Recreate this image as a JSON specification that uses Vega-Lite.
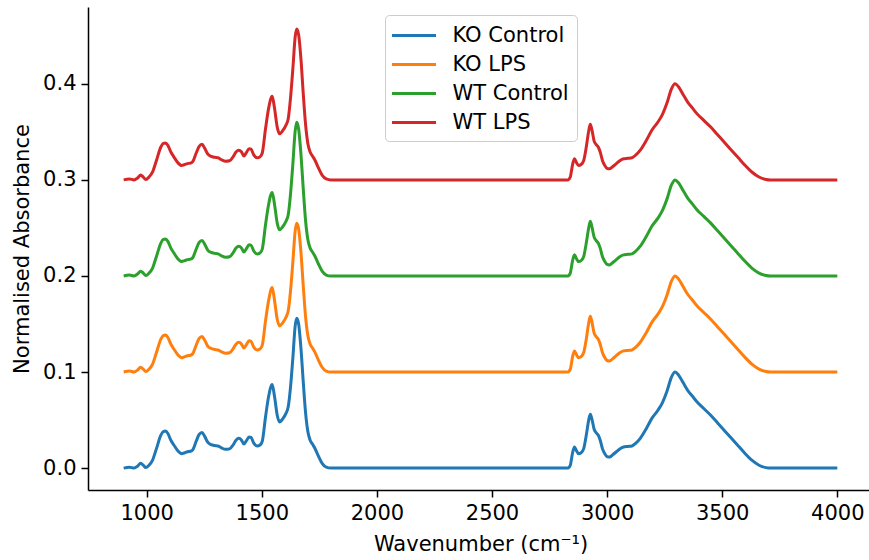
{
  "$schema": "https://vega.github.io/schema/vega-lite/v6.json",
  "width": 785,
  "height": 483,
  "autosize": "none",
  "padding": {"left": 88, "top": 7, "right": 0, "bottom": 70},
  "background": "white",
  "config": {
    "view": {"stroke": null},
    "font": "DejaVu Sans",
    "axis": {
      "grid": false,
      "domainColor": "#000000",
      "domainWidth": 1.5,
      "tickColor": "#000000",
      "tickWidth": 1.5,
      "tickSize": 7,
      "labelFontSize": 21,
      "labelColor": "#000000",
      "labelPadding": 5,
      "titleFontSize": 21,
      "titleFontWeight": "normal",
      "titleColor": "#000000"
    },
    "legend": {
      "orient": "none",
      "legendX": 297,
      "legendY": 8,
      "strokeColor": "#cccccc",
      "fillColor": "rgba(255,255,255,0.8)",
      "cornerRadius": 4,
      "padding": 8,
      "labelFontSize": 21,
      "labelColor": "#000000",
      "labelLimit": 400,
      "symbolType": "M-2,0H2",
      "symbolSize": 484,
      "symbolStrokeWidth": 3,
      "symbolOffset": 8.5,
      "labelOffset": 26,
      "rowPadding": 6
    }
  },
  "datasets": {
    "ko_control": [
      {"x":900,"y":0.000},{"x":925,"y":0.001},{"x":945,"y":0.000},{"x":960,"y":0.002},{"x":974,"y":0.005},{"x":985,"y":0.003},{"x":996,"y":0.0005},{"x":1010,"y":0.003},{"x":1025,"y":0.008},{"x":1042,"y":0.020},{"x":1061,"y":0.034},{"x":1072,"y":0.038},{"x":1082,"y":0.0385},{"x":1092,"y":0.036},{"x":1105,"y":0.029},{"x":1118,"y":0.024},{"x":1135,"y":0.018},{"x":1152,"y":0.015},{"x":1165,"y":0.016},{"x":1177,"y":0.017},{"x":1190,"y":0.0175},{"x":1200,"y":0.019},{"x":1215,"y":0.028},{"x":1228,"y":0.035},{"x":1240,"y":0.037},{"x":1252,"y":0.033},{"x":1265,"y":0.027},{"x":1280,"y":0.0245},{"x":1295,"y":0.0235},{"x":1310,"y":0.023},{"x":1325,"y":0.021},{"x":1343,"y":0.0195},{"x":1360,"y":0.020},{"x":1375,"y":0.024},{"x":1388,"y":0.029},{"x":1400,"y":0.031},{"x":1412,"y":0.029},{"x":1422,"y":0.025},{"x":1432,"y":0.028},{"x":1445,"y":0.0325},{"x":1453,"y":0.032},{"x":1465,"y":0.026},{"x":1480,"y":0.023},{"x":1492,"y":0.024},{"x":1502,"y":0.028},{"x":1516,"y":0.053},{"x":1530,"y":0.075},{"x":1545,"y":0.087},{"x":1555,"y":0.075},{"x":1567,"y":0.055},{"x":1577,"y":0.048},{"x":1590,"y":0.051},{"x":1605,"y":0.057},{"x":1615,"y":0.064},{"x":1625,"y":0.085},{"x":1635,"y":0.115},{"x":1645,"y":0.148},{"x":1652,"y":0.156},{"x":1660,"y":0.150},{"x":1670,"y":0.125},{"x":1680,"y":0.090},{"x":1690,"y":0.058},{"x":1700,"y":0.038},{"x":1710,"y":0.029},{"x":1720,"y":0.025},{"x":1730,"y":0.021},{"x":1745,"y":0.013},{"x":1762,"y":0.005},{"x":1780,"y":0.001},{"x":1800,"y":0.000},{"x":2300,"y":0.000},{"x":2830,"y":0.000},{"x":2840,"y":0.003},{"x":2850,"y":0.016},{"x":2858,"y":0.022},{"x":2867,"y":0.018},{"x":2876,"y":0.015},{"x":2887,"y":0.016},{"x":2898,"y":0.020},{"x":2910,"y":0.035},{"x":2920,"y":0.050},{"x":2927,"y":0.056},{"x":2935,"y":0.050},{"x":2943,"y":0.041},{"x":2952,"y":0.037},{"x":2962,"y":0.034},{"x":2970,"y":0.029},{"x":2980,"y":0.020},{"x":2990,"y":0.015},{"x":3000,"y":0.012},{"x":3010,"y":0.0115},{"x":3025,"y":0.014},{"x":3040,"y":0.017},{"x":3055,"y":0.020},{"x":3072,"y":0.022},{"x":3090,"y":0.0225},{"x":3108,"y":0.023},{"x":3125,"y":0.026},{"x":3144,"y":0.031},{"x":3170,"y":0.041},{"x":3195,"y":0.052},{"x":3220,"y":0.060},{"x":3240,"y":0.068},{"x":3260,"y":0.080},{"x":3280,"y":0.095},{"x":3295,"y":0.100},{"x":3310,"y":0.097},{"x":3330,"y":0.089},{"x":3350,"y":0.081},{"x":3370,"y":0.075},{"x":3390,"y":0.069},{"x":3420,"y":0.062},{"x":3450,"y":0.055},{"x":3480,"y":0.047},{"x":3510,"y":0.039},{"x":3540,"y":0.031},{"x":3570,"y":0.023},{"x":3600,"y":0.015},{"x":3630,"y":0.008},{"x":3660,"y":0.003},{"x":3690,"y":0.0005},{"x":3710,"y":0.000},{"x":4000,"y":0.000}
    ],
    "ko_lps": [
      {"x":900,"y":0.100},{"x":925,"y":0.101},{"x":945,"y":0.100},{"x":960,"y":0.102},{"x":974,"y":0.105},{"x":985,"y":0.103},{"x":996,"y":0.1005},{"x":1010,"y":0.103},{"x":1025,"y":0.108},{"x":1042,"y":0.120},{"x":1061,"y":0.134},{"x":1072,"y":0.138},{"x":1082,"y":0.1385},{"x":1092,"y":0.136},{"x":1105,"y":0.129},{"x":1118,"y":0.124},{"x":1135,"y":0.118},{"x":1152,"y":0.115},{"x":1165,"y":0.116},{"x":1177,"y":0.117},{"x":1190,"y":0.1175},{"x":1200,"y":0.119},{"x":1215,"y":0.128},{"x":1228,"y":0.135},{"x":1240,"y":0.137},{"x":1252,"y":0.133},{"x":1265,"y":0.127},{"x":1280,"y":0.1245},{"x":1295,"y":0.1235},{"x":1310,"y":0.123},{"x":1325,"y":0.121},{"x":1343,"y":0.1195},{"x":1360,"y":0.120},{"x":1375,"y":0.124},{"x":1388,"y":0.129},{"x":1400,"y":0.131},{"x":1412,"y":0.129},{"x":1422,"y":0.125},{"x":1432,"y":0.128},{"x":1445,"y":0.1325},{"x":1453,"y":0.132},{"x":1465,"y":0.126},{"x":1480,"y":0.123},{"x":1492,"y":0.124},{"x":1502,"y":0.128},{"x":1516,"y":0.153},{"x":1530,"y":0.175},{"x":1545,"y":0.188},{"x":1555,"y":0.175},{"x":1567,"y":0.155},{"x":1577,"y":0.148},{"x":1590,"y":0.151},{"x":1605,"y":0.157},{"x":1615,"y":0.164},{"x":1625,"y":0.185},{"x":1635,"y":0.215},{"x":1645,"y":0.247},{"x":1652,"y":0.255},{"x":1660,"y":0.249},{"x":1670,"y":0.225},{"x":1680,"y":0.190},{"x":1690,"y":0.158},{"x":1700,"y":0.138},{"x":1710,"y":0.129},{"x":1720,"y":0.125},{"x":1730,"y":0.121},{"x":1745,"y":0.113},{"x":1762,"y":0.105},{"x":1780,"y":0.101},{"x":1800,"y":0.100},{"x":2300,"y":0.100},{"x":2830,"y":0.100},{"x":2840,"y":0.103},{"x":2850,"y":0.116},{"x":2858,"y":0.122},{"x":2867,"y":0.118},{"x":2876,"y":0.115},{"x":2887,"y":0.116},{"x":2898,"y":0.120},{"x":2910,"y":0.135},{"x":2920,"y":0.151},{"x":2927,"y":0.158},{"x":2935,"y":0.151},{"x":2943,"y":0.141},{"x":2952,"y":0.137},{"x":2962,"y":0.134},{"x":2970,"y":0.129},{"x":2980,"y":0.120},{"x":2990,"y":0.115},{"x":3000,"y":0.112},{"x":3010,"y":0.1115},{"x":3025,"y":0.114},{"x":3040,"y":0.117},{"x":3055,"y":0.120},{"x":3072,"y":0.122},{"x":3090,"y":0.1225},{"x":3108,"y":0.123},{"x":3125,"y":0.126},{"x":3144,"y":0.131},{"x":3170,"y":0.141},{"x":3195,"y":0.152},{"x":3220,"y":0.160},{"x":3240,"y":0.168},{"x":3260,"y":0.180},{"x":3280,"y":0.195},{"x":3295,"y":0.200},{"x":3310,"y":0.197},{"x":3330,"y":0.189},{"x":3350,"y":0.181},{"x":3370,"y":0.175},{"x":3390,"y":0.169},{"x":3420,"y":0.162},{"x":3450,"y":0.155},{"x":3480,"y":0.147},{"x":3510,"y":0.139},{"x":3540,"y":0.131},{"x":3570,"y":0.123},{"x":3600,"y":0.115},{"x":3630,"y":0.108},{"x":3660,"y":0.103},{"x":3690,"y":0.1005},{"x":3710,"y":0.100},{"x":4000,"y":0.100}
    ],
    "wt_control": [
      {"x":900,"y":0.200},{"x":925,"y":0.201},{"x":945,"y":0.200},{"x":960,"y":0.202},{"x":974,"y":0.205},{"x":985,"y":0.203},{"x":996,"y":0.2005},{"x":1010,"y":0.203},{"x":1025,"y":0.208},{"x":1042,"y":0.220},{"x":1061,"y":0.234},{"x":1072,"y":0.238},{"x":1082,"y":0.2385},{"x":1092,"y":0.236},{"x":1105,"y":0.229},{"x":1118,"y":0.224},{"x":1135,"y":0.218},{"x":1152,"y":0.215},{"x":1165,"y":0.216},{"x":1177,"y":0.217},{"x":1190,"y":0.2175},{"x":1200,"y":0.219},{"x":1215,"y":0.228},{"x":1228,"y":0.235},{"x":1240,"y":0.237},{"x":1252,"y":0.233},{"x":1265,"y":0.227},{"x":1280,"y":0.2245},{"x":1295,"y":0.2235},{"x":1310,"y":0.223},{"x":1325,"y":0.221},{"x":1343,"y":0.2195},{"x":1360,"y":0.220},{"x":1375,"y":0.224},{"x":1388,"y":0.229},{"x":1400,"y":0.231},{"x":1412,"y":0.229},{"x":1422,"y":0.225},{"x":1432,"y":0.228},{"x":1445,"y":0.2325},{"x":1453,"y":0.232},{"x":1465,"y":0.226},{"x":1480,"y":0.223},{"x":1492,"y":0.224},{"x":1502,"y":0.228},{"x":1516,"y":0.253},{"x":1530,"y":0.275},{"x":1545,"y":0.287},{"x":1555,"y":0.275},{"x":1567,"y":0.255},{"x":1577,"y":0.248},{"x":1590,"y":0.251},{"x":1605,"y":0.257},{"x":1615,"y":0.264},{"x":1625,"y":0.286},{"x":1635,"y":0.317},{"x":1645,"y":0.351},{"x":1652,"y":0.360},{"x":1660,"y":0.353},{"x":1670,"y":0.327},{"x":1680,"y":0.291},{"x":1690,"y":0.258},{"x":1700,"y":0.238},{"x":1710,"y":0.229},{"x":1720,"y":0.225},{"x":1730,"y":0.221},{"x":1745,"y":0.213},{"x":1762,"y":0.205},{"x":1780,"y":0.201},{"x":1800,"y":0.200},{"x":2300,"y":0.200},{"x":2830,"y":0.200},{"x":2840,"y":0.203},{"x":2850,"y":0.216},{"x":2858,"y":0.222},{"x":2867,"y":0.218},{"x":2876,"y":0.215},{"x":2887,"y":0.216},{"x":2898,"y":0.220},{"x":2910,"y":0.235},{"x":2920,"y":0.250},{"x":2927,"y":0.257},{"x":2935,"y":0.250},{"x":2943,"y":0.241},{"x":2952,"y":0.237},{"x":2962,"y":0.234},{"x":2970,"y":0.229},{"x":2980,"y":0.220},{"x":2990,"y":0.215},{"x":3000,"y":0.212},{"x":3010,"y":0.2115},{"x":3025,"y":0.214},{"x":3040,"y":0.217},{"x":3055,"y":0.220},{"x":3072,"y":0.222},{"x":3090,"y":0.2225},{"x":3108,"y":0.223},{"x":3125,"y":0.226},{"x":3144,"y":0.231},{"x":3170,"y":0.241},{"x":3195,"y":0.252},{"x":3220,"y":0.260},{"x":3240,"y":0.268},{"x":3260,"y":0.280},{"x":3280,"y":0.295},{"x":3295,"y":0.300},{"x":3310,"y":0.297},{"x":3330,"y":0.289},{"x":3350,"y":0.281},{"x":3370,"y":0.275},{"x":3390,"y":0.269},{"x":3420,"y":0.262},{"x":3450,"y":0.255},{"x":3480,"y":0.247},{"x":3510,"y":0.239},{"x":3540,"y":0.231},{"x":3570,"y":0.223},{"x":3600,"y":0.215},{"x":3630,"y":0.208},{"x":3660,"y":0.203},{"x":3690,"y":0.2005},{"x":3710,"y":0.200},{"x":4000,"y":0.200}
    ],
    "wt_lps": [
      {"x":900,"y":0.300},{"x":925,"y":0.301},{"x":945,"y":0.300},{"x":960,"y":0.302},{"x":974,"y":0.305},{"x":985,"y":0.303},{"x":996,"y":0.3005},{"x":1010,"y":0.303},{"x":1025,"y":0.308},{"x":1042,"y":0.320},{"x":1061,"y":0.334},{"x":1072,"y":0.338},{"x":1082,"y":0.3385},{"x":1092,"y":0.336},{"x":1105,"y":0.329},{"x":1118,"y":0.324},{"x":1135,"y":0.318},{"x":1152,"y":0.315},{"x":1165,"y":0.316},{"x":1177,"y":0.317},{"x":1190,"y":0.3175},{"x":1200,"y":0.319},{"x":1215,"y":0.328},{"x":1228,"y":0.335},{"x":1240,"y":0.337},{"x":1252,"y":0.333},{"x":1265,"y":0.327},{"x":1280,"y":0.3245},{"x":1295,"y":0.3235},{"x":1310,"y":0.323},{"x":1325,"y":0.321},{"x":1343,"y":0.3195},{"x":1360,"y":0.320},{"x":1375,"y":0.324},{"x":1388,"y":0.329},{"x":1400,"y":0.331},{"x":1412,"y":0.329},{"x":1422,"y":0.325},{"x":1432,"y":0.328},{"x":1445,"y":0.3325},{"x":1453,"y":0.332},{"x":1465,"y":0.326},{"x":1480,"y":0.323},{"x":1492,"y":0.324},{"x":1502,"y":0.328},{"x":1516,"y":0.353},{"x":1530,"y":0.375},{"x":1545,"y":0.387},{"x":1555,"y":0.375},{"x":1567,"y":0.355},{"x":1577,"y":0.348},{"x":1590,"y":0.351},{"x":1605,"y":0.357},{"x":1615,"y":0.364},{"x":1625,"y":0.386},{"x":1635,"y":0.416},{"x":1645,"y":0.449},{"x":1652,"y":0.457},{"x":1660,"y":0.451},{"x":1670,"y":0.426},{"x":1680,"y":0.390},{"x":1690,"y":0.358},{"x":1700,"y":0.338},{"x":1710,"y":0.329},{"x":1720,"y":0.325},{"x":1730,"y":0.321},{"x":1745,"y":0.313},{"x":1762,"y":0.305},{"x":1780,"y":0.301},{"x":1800,"y":0.300},{"x":2300,"y":0.300},{"x":2830,"y":0.300},{"x":2840,"y":0.303},{"x":2850,"y":0.316},{"x":2858,"y":0.322},{"x":2867,"y":0.318},{"x":2876,"y":0.315},{"x":2887,"y":0.316},{"x":2898,"y":0.320},{"x":2910,"y":0.335},{"x":2920,"y":0.351},{"x":2927,"y":0.358},{"x":2935,"y":0.351},{"x":2943,"y":0.341},{"x":2952,"y":0.337},{"x":2962,"y":0.334},{"x":2970,"y":0.329},{"x":2980,"y":0.320},{"x":2990,"y":0.315},{"x":3000,"y":0.312},{"x":3010,"y":0.3115},{"x":3025,"y":0.314},{"x":3040,"y":0.317},{"x":3055,"y":0.320},{"x":3072,"y":0.322},{"x":3090,"y":0.3225},{"x":3108,"y":0.323},{"x":3125,"y":0.326},{"x":3144,"y":0.331},{"x":3170,"y":0.341},{"x":3195,"y":0.352},{"x":3220,"y":0.360},{"x":3240,"y":0.368},{"x":3260,"y":0.380},{"x":3280,"y":0.395},{"x":3295,"y":0.400},{"x":3310,"y":0.397},{"x":3330,"y":0.389},{"x":3350,"y":0.381},{"x":3370,"y":0.375},{"x":3390,"y":0.369},{"x":3420,"y":0.362},{"x":3450,"y":0.355},{"x":3480,"y":0.347},{"x":3510,"y":0.339},{"x":3540,"y":0.331},{"x":3570,"y":0.323},{"x":3600,"y":0.315},{"x":3630,"y":0.308},{"x":3660,"y":0.303},{"x":3690,"y":0.3005},{"x":3710,"y":0.300},{"x":4000,"y":0.300}
    ]
  },
  "encoding": {
    "x": {
      "field": "x",
      "type": "quantitative",
      "scale": {"domain": [745, 4155], "nice": false, "zero": false},
      "axis": {"values": [1000, 1500, 2000, 2500, 3000, 3500, 4000], "format": "d", "title": "Wavenumber (cm⁻¹)", "titlePadding": 10, "labelFlush": false}
    },
    "y": {
      "field": "y",
      "type": "quantitative",
      "scale": {"domain": [-0.0228, 0.48], "nice": false, "zero": false},
      "axis": {"values": [0, 0.1, 0.2, 0.3, 0.4], "format": ".1f", "title": "Normalised Absorbance", "titlePadding": 10}
    }
  },
  "layer": [
    {
      "data": {"name": "ko_control"},
      "mark": {"type": "line", "interpolate": "monotone", "strokeWidth": 3},
      "encoding": {
        "color": {
          "datum": "KO Control",
          "type": "nominal",
          "scale": {"domain": ["KO Control", "KO LPS", "WT Control", "WT LPS"], "range": ["#1f77b4", "#ff7f0e", "#2ca02c", "#d62728"]},
          "legend": {"title": null}
        }
      }
    },
    {
      "data": {"name": "ko_lps"},
      "mark": {"type": "line", "interpolate": "monotone", "strokeWidth": 3},
      "encoding": {"color": {"datum": "KO LPS", "type": "nominal"}}
    },
    {
      "data": {"name": "wt_control"},
      "mark": {"type": "line", "interpolate": "monotone", "strokeWidth": 3},
      "encoding": {"color": {"datum": "WT Control", "type": "nominal"}}
    },
    {
      "data": {"name": "wt_lps"},
      "mark": {"type": "line", "interpolate": "monotone", "strokeWidth": 3},
      "encoding": {"color": {"datum": "WT LPS", "type": "nominal"}}
    }
  ]
}
